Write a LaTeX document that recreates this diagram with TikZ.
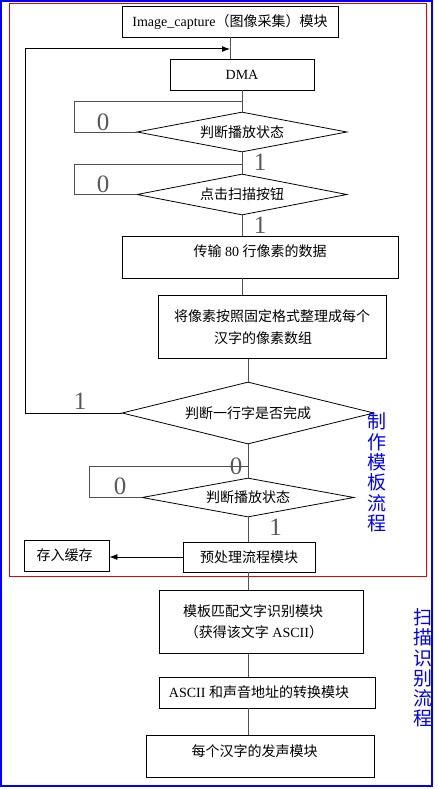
\documentclass[tikz,border=0pt]{standalone}
\usepackage{fontspec}
\setmainfont{Liberation Serif}
\newfontfamily\cjk{Noto Sans CJK SC}
\usetikzlibrary{shapes.geometric,arrows.meta}
\definecolor{frameblue}{RGB}{0,0,255}
\definecolor{framered}{RGB}{230,0,0}
\definecolor{conn}{RGB}{80,80,80}
\begin{document}
\begin{tikzpicture}[x=1pt,y=-1pt,
  box/.style={draw=black,line width=0.8pt,rectangle,inner sep=0pt,
    font=\fontsize{14}{21}\selectfont},
  sbox/.style={box,text height=12pt,text depth=2pt},
  dia/.style={draw=black,line width=0.8pt,diamond,aspect=5,inner sep=0pt,
    font=\fontsize{14}{17}\selectfont,text height=12pt,text depth=2pt},
  conline/.style={draw=conn,line width=1pt},
  digit/.style={font=\fontsize{25}{25}\selectfont,text=black!65,inner sep=0pt},
  bluelbl/.style={font=\cjk\fontsize{19}{20.3}\selectfont,text=frameblue,
    align=center,inner sep=0pt},
  arr/.style={-{Latex[length=8pt,width=6pt]}}]
\useasboundingbox (0,0) rectangle (437,789);
% frames
\draw[frameblue,line width=1.2pt] (1,1) rectangle (432,786);
\draw[framered,line width=1pt] (9,4) rectangle (426,576);
% nodes
\node[sbox,minimum width=216pt,minimum height=31pt] (box1) at (230,21.5)
  {Image\_capture{\cjk （图像采集）模块}};
\node[sbox,minimum width=144pt,minimum height=31pt] (dma) at (242,74.5) {DMA};
\node[dia,minimum width=210pt,minimum height=40pt] (d1) at (242,132)
  {\cjk 判断播放状态};
\node[dia,minimum width=210pt,minimum height=41pt] (d2) at (242,194.5)
  {\cjk 点击扫描按钮};
\node[box,minimum width=276pt,minimum height=42pt,text height=12pt,text depth=14pt] (t80) at (260,257)
  {{\cjk 传输} 80 {\cjk 行像素的数据}};
\node[box,minimum width=228pt,minimum height=63pt,align=left,font=\cjk\fontsize{14}{22}\selectfont] (arrange) at (272,327)
  {将像素按照固定格式整理成每个\\\hspace*{40pt}汉字的像素数组};
\node[dia,minimum width=252pt,minimum height=62pt,aspect=4] (d3) at (248,413)
  {\cjk 判断一行字是否完成};
\node[dia,minimum width=212pt,minimum height=39pt] (d4) at (248,497.5)
  {\cjk 判断播放状态};
\node[sbox,minimum width=132pt,minimum height=30pt] (pre) at (249,557)
  {\cjk 预处理流程模块};
\node[sbox,minimum width=85pt,minimum height=31pt] (cache) at (66.5,555.5)
  {\cjk 存入缓存\hspace*{4pt}};
\node[box,minimum width=204pt,minimum height=63pt,align=right] (tm) at (261,622)
  {{\cjk 模板匹配文字识别模块}\hspace*{16pt}\\{\cjk （获得该文字} ASCII{\cjk ）}\hspace*{16pt}};
\node[sbox,minimum width=216pt,minimum height=31pt] (asc) at (267,692.5)
  {ASCII {\cjk 和声音地址的转换模块}\hspace*{16pt}};
\node[box,minimum width=228pt,minimum height=42pt,text height=12pt,text depth=12pt] (mei) at (260,756)
  {{\cjk 每个汉字的发声模块}\hspace*{11pt}};
% junction coordinates
\coordinate (j0) at (230,49);
\coordinate (j1) at (242,102);
\coordinate (j2) at (242,164);
\coordinate (j4) at (248,466);
% main chain
\draw[conline] (box1.south) -- (box1.south |- dma.north);
\draw[conline] (dma.south -| d1.north) -- (d1.north);
\draw[conline] (d1.south) -- (d2.north);
\draw[conline] (d2.south) -- (d2.south |- t80.north);
\draw[conline] (t80.south -| d2.south) -- (d2.south |- arrange.north);
\draw[conline] (arrange.south -| d3.north) -- (d3.north);
\draw[conline] (d3.south) -- (d4.north);
\draw[conline] (d4.south) -- (d4.south |- pre.north);
\draw[conline] (pre.south -| d4.south) -- (d4.south |- tm.north);
\draw[conline] (tm.south -| d4.south) -- (d4.south |- asc.north);
\draw[conline] (asc.south -| d4.south) -- (d4.south |- mei.north);
% loops
\draw[conline] (j1) -- ++(-168,0) |- (d1.west);
\draw[conline] (j2) -- ++(-168,0) |- (d2.west);
\draw[conline] (j4) -- ++(-159,0) |- (d4.west);
\draw[conline,draw=black,arr] (d3.west) -- ++(-96,0) |- (j0);
\draw[draw=black,line width=0.8pt,arr] (pre.west) -- (pre.west -| cache.east);
% digit labels
\node[digit] (z1) at (103,122) {0};
\node[digit] (o1) at (260,162) {1};
\node[digit] (z2) at (103,184) {0};
\node[digit] (o2) at (260,225) {1};
\node[digit] (o3) at (80,401) {1};
\node[digit] (z3) at (236,466) {0};
\node[digit] (z4) at (120,486) {0};
\node[digit] (o4) at (275.5,527) {1};
% blue labels
\node[bluelbl] (lblA) at (377,472.5) {制\\作\\模\\板\\流\\程};
\node[bluelbl] (lblB) at (423,668) {扫\\描\\识\\别\\流\\程};
\end{tikzpicture}
\end{document}
